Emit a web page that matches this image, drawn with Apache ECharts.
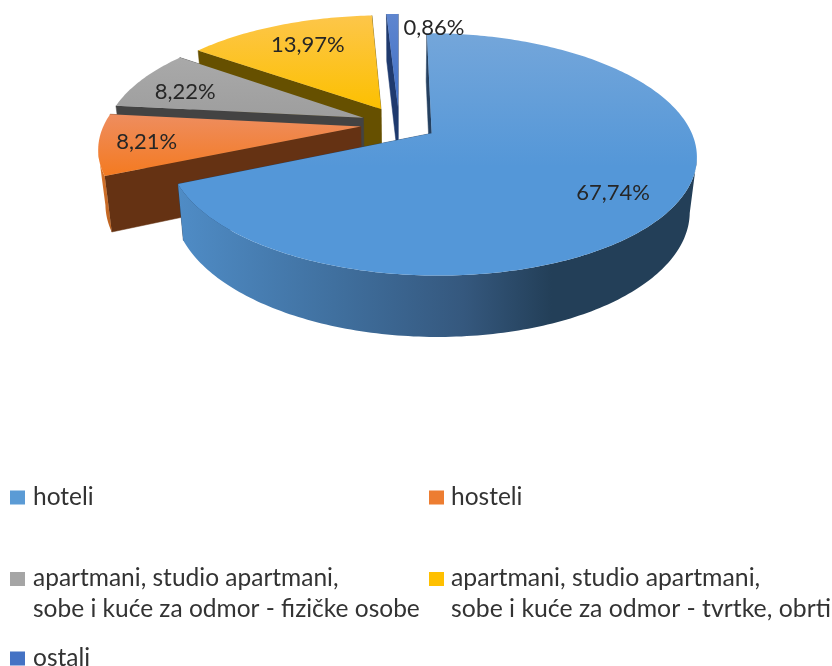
<!DOCTYPE html>
<html><head><meta charset="utf-8">
<style>html,body{margin:0;padding:0;background:#fff}#c{width:832px;height:666px}</style>
<script src="https://cdn.jsdelivr.net/npm/echarts@6/dist/echarts.min.js"></script>
</head><body><div id="c"></div>
<script>
// --- data ---
const categories = ['hoteli','hosteli','apartmani, studio apartmani,\nsobe i kuće za odmor - fizičke osobe','apartmani, studio apartmani,\nsobe i kuće za odmor - tvrtke, obrti','ostali'];
const shares = [67.74, 8.21, 8.22, 13.97, 0.86];
const shareLabels = ['67,74%','8,21%','8,22%','13,97%','0,86%'];

// --- styling & layout ---
const swatch = ['#5b9bd5','#ed7d31','#a5a5a5','#ffc000','#4472c4'];
const topStops = [['#74a6da','#5497d8'],['#ee8d5f','#f47a20'],['#a9a9a9','#9e9e9e'],['#fdc64a','#fcc000'],['#5f86cf','#3f6fc6']];
const edgeColor = ['#254060','#653213','#434343','#665000','#1f3a6e'];
const rimStops = [[[0,'#4f8cc6'],[0.3,'#40709f'],[0.55,'#35587e'],[0.72,'#233f58'],[1,'#233f58']],
  [[0,'#e07a30'],[1,'#b8601f']],[[0,'#7a7a7a'],[1,'#5a5a5a']],[[0,'#a88000'],[1,'#806000']],[[0,'#2a4f95'],[1,'#2a4f95']]];
const labelPlace = [[0.785,3.45],[0.82,-0.2],[0.772,-3.35],[0.728,1.5],[0.842,12.75]];
const legendPlace = [[10,482,1],[429,482,1],[10,563,2],[429,563,2],[10,643,1]];
const legendFont = [24.5,24.5,24.5,24.8,24.5];
const drawOrder = [4,3,2,1,0];
const FONT = 'Lato, Calibri, sans-serif';
const G = {cx:399, cy:123.8, rx:256.5, ry:114.3, p:0.171, e:0.15, dz:53, q:0.024};

const total = shares.reduce((a,b)=>a+b,0);
const starts = []; shares.reduce((a,v,i)=>{starts[i]=a; return a+v;},0);
const rad = d => d*Math.PI/180;
function proj(X,Y,Z){
  const b = 1/(1-G.p*Y), s = b*(1-G.q*Z);
  return [G.cx+G.rx*X*s, G.cy+G.ry*Y*s+G.dz*Z*b];
}
function renderSlice(idx){
  return function(params, api){
    const val = api.value(0);
    const a0 = starts[idx]/total*360, a1 = a0+val/total*360, mid = (a0+a1)/2;
    const ax = G.e*Math.sin(rad(mid)), ay = -G.e*Math.cos(rad(mid));
    const n = Math.max(4, Math.ceil(a1-a0));
    const rim = [];
    for(let i=0;i<=n;i++){ const t=a0+(a1-a0)*i/n; rim.push([t, ax+Math.sin(rad(t)), ay-Math.cos(rad(t))]); }
    const topPts = [proj(ax,ay,0)].concat(rim.map(r=>proj(r[1],r[2],0)));
    const kids = [];
    const wall = (a,b)=>[proj(a[0],a[1],0),proj(b[0],b[1],0),proj(b[0],b[1],1),proj(a[0],a[1],1)];
    const face = (f,z2)=>kids.push({type:'polygon',z2:z2,silent:true,shape:{points:f},style:{fill:edgeColor[idx],stroke:edgeColor[idx],lineWidth:0.5}});
    face(wall([ax,ay],[rim[0][1],rim[0][2]]),idx===0?1:2);
    face(wall([ax,ay],[rim[n][1],rim[n][2]]),idx===0?2:1);
    // outer wall: only segments turned towards the viewer
    const vis = rim.filter(r=>{
      const nx=Math.sin(rad(r[0])), ny=-Math.cos(rad(r[0]));
      return nx*(0-r[1])+ny*(1/G.p-r[2])>0;
    });
    if(vis.length>1){
      const up=vis.map(r=>proj(r[1],r[2],0)), low=vis.map(r=>proj(r[1],r[2],1)).reverse();
      const xs=up.concat(low).map(p=>p[0]);
      const xa=Math.min.apply(null,xs), xb=Math.max.apply(null,xs);
      kids.push({type:'polygon',z2:3,silent:true,shape:{points:up.concat(low)},
        style:{fill:new echarts.graphic.LinearGradient(xa,0,xb,0,rimStops[idx].map(s=>({offset:s[0],color:s[1]})),true)}});
    }
    const ys=topPts.map(p=>p[1]);
    kids.push({type:'polygon',z2:4,silent:true,shape:{points:topPts},
      style:{fill:new echarts.graphic.LinearGradient(0,Math.min.apply(null,ys),0,Math.max.apply(null,ys),
        [{offset:0,color:topStops[idx][0]},{offset:idx===0?0.55:1,color:topStops[idx][1]},{offset:1,color:topStops[idx][1]}],true)}});
    const lp=labelPlace[idx], la=mid+lp[1];
    const pos=proj(ax+lp[0]*Math.sin(rad(la)), ay-lp[0]*Math.cos(rad(la)),0);
    kids.push({type:'text',z2:100,silent:true,x:pos[0],y:pos[1],
      style:{text:shareLabels[idx],fill:'#262626',font:'22px '+FONT,align:'center',verticalAlign:'middle'}});
    return {type:'group',children:kids};
  };
}
const chart = echarts.init(document.getElementById('c'),null,{renderer:'canvas'});
chart.setOption({
  animation:false,
  backgroundColor:'#fff',
  tooltip:{show:false},
  legend: categories.map((name,i)=>{
    const lines=legendPlace[i][2];
    return {show:true,data:[name],left:legendPlace[i][0],top:legendPlace[i][1],selectedMode:false,padding:0,
      itemWidth:15,itemHeight:lines===2?44:22,itemGap:0,
      icon:lines===2?'path://M0 0H15V14H0Z M0 44H15':'path://M0 4H15V18H0Z M0 0H15 M0 22H15',
      itemStyle:{color:swatch[i]},
      textStyle:{fontFamily:FONT,fontSize:legendFont[i],color:'#333',lineHeight:31,padding:[0,0,0,i%2?2:3]}};
  }),
  series: drawOrder.map(i=>({
    type:'custom',name:categories[i],coordinateSystem:'none',
    itemStyle:{color:swatch[i]},
    data:[[shares[i]]],renderItem:renderSlice(i),silent:true
  }))
});
</script></body></html>
